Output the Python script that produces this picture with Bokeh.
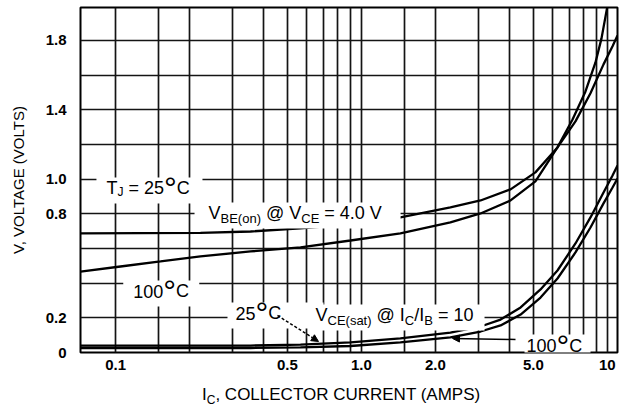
from bokeh.plotting import figure
from bokeh.layouts import column
from bokeh.models import FixedTicker, CustomJSTickFormatter, Label, Arrow, NormalHead, Range1d, Div
from bokeh.embed import file_html
from bokeh.resources import INLINE

# ---------------- data ----------------
IC_BE_25 = [0.072, 0.2215, 0.354, 0.565, 0.9025, 1.44, 2.30, 3.05, 4.04, 5.10, 6.27, 7.42, 8.54, 9.65, 10.5, 11.0]
VBE_25 = [0.687, 0.690, 0.698, 0.716, 0.739, 0.779, 0.837, 0.877, 0.941, 1.039, 1.183, 1.333, 1.495, 1.662, 1.766, 1.829]

IC_BE_100 = [0.072, 0.1047, 0.1523, 0.2215, 0.354, 0.565, 0.9025, 1.44, 2.30, 3.05, 4.04, 5.10, 6.27, 7.22, 8.15, 8.95, 9.47, 10.02]
VBE_100 = [0.467, 0.496, 0.525, 0.554, 0.583, 0.606, 0.646, 0.687, 0.750, 0.802, 0.877, 0.987, 1.183, 1.344, 1.506, 1.673, 1.812, 2.002]

IC_SAT = [0.072, 0.354, 0.565, 0.9025, 1.44, 2.30, 3.05, 3.68, 4.44, 5.35, 6.27, 7.42, 8.54, 9.65, 10.5, 11.0]
VCE_25 = [0.040, 0.040, 0.046, 0.058, 0.081, 0.115, 0.150, 0.190, 0.260, 0.364, 0.473, 0.629, 0.779, 0.923, 1.021, 1.079]
VCE_100 = [0.026, 0.026, 0.029, 0.0375, 0.058, 0.087, 0.121, 0.156, 0.219, 0.317, 0.427, 0.577, 0.721, 0.860, 0.952, 1.004]

X_TICKS = [0.1, 0.5, 1.0, 2.0, 5.0, 10.0]
Y_TICKS = [0.0, 0.2, 0.8, 1.0, 1.4, 1.8]
X_GRID = [0.1, 0.15, 0.2, 0.3, 0.4, 0.5, 0.6, 0.7, 0.8, 0.9, 1.0, 1.5, 2.0, 3.0, 4.0, 5.0, 6.0, 7.0, 8.0, 9.0, 10.0]
Y_GRID = [0.2, 0.4, 0.6, 0.8, 1.0, 1.2, 1.4, 1.6, 1.8]
X_RANGE = (0.072, 11.0)
Y_RANGE = (0.0, 1.99)

FONT = "Liberation Sans"

p = figure(width=637, height=382, x_axis_type="log",
           x_range=Range1d(*X_RANGE), y_range=Range1d(*Y_RANGE),
           output_backend="svg", toolbar_location=None,
           min_border_left=80, min_border_right=20, min_border_top=7, min_border_bottom=30)
p.background_fill_color = "white"
p.border_fill_color = "white"
p.outline_line_color = "black"
p.outline_line_width = 2

# grids
p.xgrid.ticker = FixedTicker(ticks=X_GRID)
p.ygrid.ticker = FixedTicker(ticks=Y_GRID)
for g in (p.xgrid, p.ygrid):
    g.grid_line_color = "#141414"
    g.grid_line_width = 1.7

# axes
p.xaxis.ticker = FixedTicker(ticks=X_TICKS)
p.yaxis.ticker = FixedTicker(ticks=Y_TICKS)
p.xaxis.formatter = CustomJSTickFormatter(code="return tick >= 10 ? tick.toFixed(0) : tick.toFixed(1);")
p.yaxis.formatter = CustomJSTickFormatter(code="return tick == 0 ? '0' : tick.toFixed(1);")
for ax in (p.xaxis, p.yaxis):
    ax.axis_line_color = None
    ax.major_tick_line_color = None
    ax.minor_tick_line_color = None
    ax.major_label_text_font = FONT
    ax.major_label_text_font_size = "15px"
    ax.major_label_text_font_style = "bold"
    ax.major_label_text_color = "black"
p.yaxis.major_label_standoff = 8
p.xaxis.major_label_standoff = 1
p.yaxis.axis_label = "V, VOLTAGE (VOLTS)"
p.yaxis.axis_label_text_font = FONT
p.yaxis.axis_label_text_font_size = "15px"
p.yaxis.axis_label_text_font_style = "normal"
p.yaxis.axis_label_text_color = "black"
p.yaxis.axis_label_standoff = 16

# curves
for xs, ys in ((IC_BE_25, VBE_25), (IC_BE_100, VBE_100), (IC_SAT, VCE_25), (IC_SAT, VCE_100)):
    p.line(xs, ys, line_color="black", line_width=2.3)

# ---------------- rich text: one white mask per annotation, then arrows, then texts ----------------
W = {' ': 278, '\u00a0': 278, '(': 333, ')': 333, ',': 278, '.': 278, '/': 278, '=': 584, '@': 1015,
     '°': 400, 'A': 667, 'B': 667, 'C': 722, 'E': 667, 'G': 778, 'I': 278, 'J': 500, 'L': 556,
     'M': 833, 'N': 722, 'O': 778, 'P': 667, 'R': 722, 'S': 667, 'T': 611, 'U': 722, 'V': 667,
     'a': 556, 'n': 556, 'o': 556, 's': 500, 't': 278}
for d in "0123456789":
    W[d] = 556

NB = "\u00a0"
# (x, y, left pad px, right pad px, parts)
ANNOTATIONS = [
    (0.0918, 0.946, 10, 8, [("T", 18, 0), ("J", 12, -4), (NB + "=" + NB + "25", 18, 0), ("°", 32, 0), ("C", 18, 0)]),
    (0.2388, 0.802, 14, 12, [("V", 18, 0), ("BE(on)", 13, -5), (NB + "@" + NB, 18, 0),
                             ("V", 18, 0), ("CE", 13, -5), (NB + "=" + NB + "4.0" + NB + "V", 18, 0)]),
    (0.1180, 0.352, 10, 6, [("100", 18, 0), ("°", 32, 0), ("C", 18, 0)]),
    (0.3074, 0.225, 8, 38, [("25", 18, 0), ("°", 32, 0), ("C", 18, 0)]),
    (0.6503, 0.2135, 2, 4, [("V", 18, 0), ("CE(sat)", 13, -5), (NB + "@" + NB + "I", 18, 0),
                            ("C", 13, -5), ("/I", 18, 0), ("B", 13, -5), (NB + "=" + NB + "10", 18, 0)]),
    (4.692, 0.040, 2, 2, [("100", 18, 0), ("°", 32, 0), ("C", 18, 0)]),
]

SP = 0.278 * 18  # width of one no-break space at 18px
for x, y, lpad, rpad, parts in ANNOTATIONS:
    total = sum(sum(W.get(c, 600) for c in t) * s / 1000.0 for t, s, _ in parts)
    n = int(round((total + lpad + rpad) / SP))
    p.add_layout(Label(x=x, y=y, x_offset=-lpad, y_offset=-2, text=NB * n, text_font=FONT,
                       text_font_size="18px", text_baseline="alphabetic", text_color="white",
                       background_fill_color="white", padding=3))

# arrows (drawn above the masks)
p.add_layout(Arrow(end=NormalHead(size=7, fill_color="black", line_color="black"),
                   x_start=0.4556, y_start=0.2135, x_end=0.6688, y_end=0.0635,
                   line_color="black", line_width=1.5, line_dash="3 2"))
p.add_layout(Arrow(end=NormalHead(size=7, fill_color="black", line_color="black"),
                   x_start=4.233, y_start=0.075, x_end=2.346, y_end=0.081,
                   line_color="black", line_width=1.5))

for x, y, lpad, rpad, parts in ANNOTATIONS:
    off = 0.0
    for txt, size, dy in parts:
        p.add_layout(Label(x=x, y=y, x_offset=off, y_offset=dy, text=txt, text_font=FONT,
                           text_font_size=f"{size}px", text_baseline="alphabetic", text_color="black"))
        off += sum(W.get(c, 600) for c in txt) * size / 1000.0

# x axis title with subscript (real HTML text)
xtitle = Div(
    text=('<div style="padding-left:202px; padding-top:3px; line-height:20px; '
          'font-family:\'Liberation Sans\'; font-size:17px; color:black; white-space:nowrap;">'
          'I<sub style="font-size:12px; vertical-align:-4px; line-height:0;">C</sub>'
          ', COLLECTOR CURRENT (AMPS)</div>'),
    width=637, height=24, margin=0)

layout = column(p, xtitle, spacing=0)
open("out.html", "w").write(file_html(layout, INLINE))
